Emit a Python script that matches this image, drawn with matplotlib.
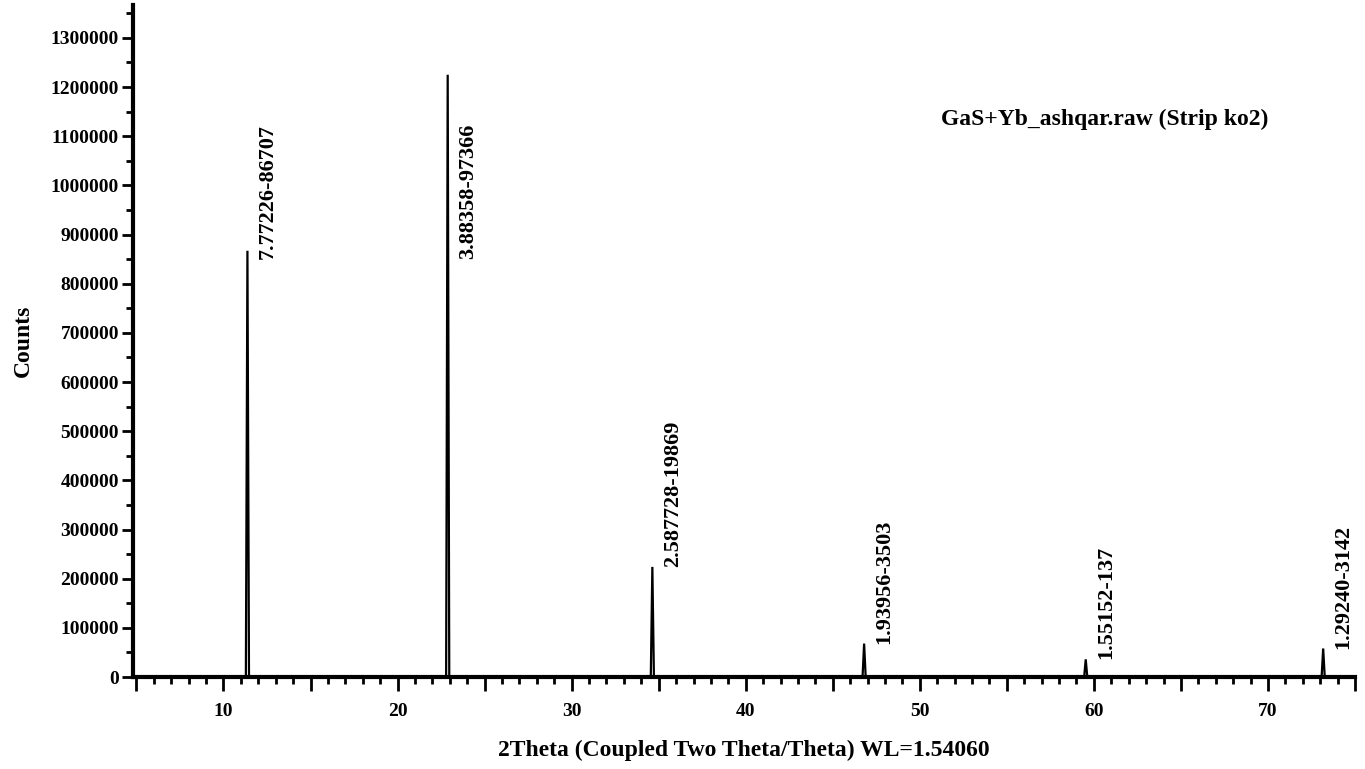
import matplotlib.pyplot as plt
from matplotlib.ticker import MultipleLocator, FuncFormatter

# Peak data
peak_pos = [11.376, 22.880, 34.636, 46.800, 59.530, 73.170]   # 2Theta
peak_counts = [867000, 1225000, 224000, 68000, 36000, 58000]
peak_labels = ['7.77226-86707', '3.88358-97366', '2.587728-19869',
               '1.93956-3503', '1.55152-137', '1.29240-3142']
x_start, x_end = 4.8, 75.0

plt.rcParams['font.family'] = ['Liberation Serif', 'DejaVu Serif']
plt.rcParams['font.weight'] = 'bold'

fig = plt.figure(figsize=(13.65, 7.69), dpi=100)
ax = fig.add_axes([0.0974, 0.1196, 0.8953, 0.874])

# build the strip pattern: flat baseline with narrow triangular peaks
half_w = 0.09
xs = [x_start]
ys = [0]
for p, c in zip(peak_pos, peak_counts):
    xs += [p - half_w, p, p + half_w]
    ys += [0, c, 0]
xs.append(x_end)
ys.append(0)
ax.plot(xs, ys, color='black', lw=1.6, solid_joinstyle='miter')

for p, c, lab in zip(peak_pos, peak_counts, peak_labels):
    ax.text(p + 0.6, min(c, 850000), lab, rotation=90, ha='left', va='bottom',
            fontsize=16, fontweight='bold')

ax.text(0.795, 0.829, 'GaS+Yb_ashqar.raw (Strip ko2)', transform=ax.transAxes,
        ha='center', va='center', fontsize=17, fontweight='bold')

ax.set_xlim(x_start, x_end)
ax.set_ylim(0, 1367000)

ax.xaxis.set_major_locator(MultipleLocator(5))
ax.xaxis.set_minor_locator(MultipleLocator(1))
ax.xaxis.set_major_formatter(FuncFormatter(lambda v, pos: '%d' % v if round(v) % 10 == 0 else ''))
ax.yaxis.set_major_locator(MultipleLocator(100000))
ax.yaxis.set_minor_locator(MultipleLocator(50000))
ax.yaxis.set_major_formatter(FuncFormatter(lambda v, pos: '%d' % v))

ax.tick_params(axis='both', which='major', labelsize=14, width=2, length=8, pad=2)
ax.tick_params(axis='both', which='minor', width=2, length=5)
ax.tick_params(axis='x', which='major', length=10, pad=9)

for s in ['top', 'right']:
    ax.spines[s].set_visible(False)
for s in ['left', 'bottom']:
    ax.spines[s].set_linewidth(3)

ax.set_ylabel('Counts', fontsize=17, fontweight='bold', labelpad=12)
ax.set_xlabel('2Theta (Coupled Two Theta/Theta) WL=1.54060', fontsize=17,
              fontweight='bold', labelpad=14)

fig.savefig('out.png', dpi=100)
